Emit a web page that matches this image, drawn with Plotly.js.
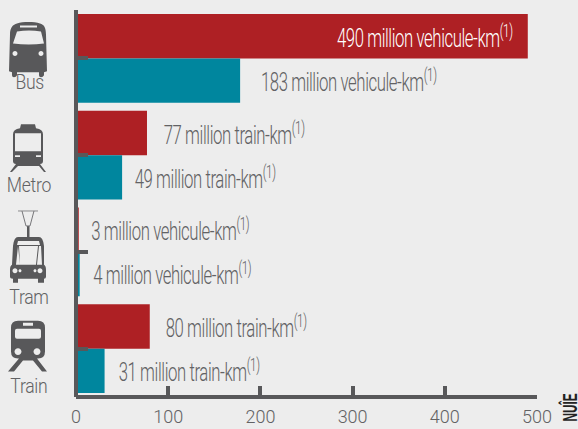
<!DOCTYPE html>
<html><head><meta charset="utf-8">
<script src="https://cdn.plot.ly/plotly-3.0.1.min.js"></script>
<style>
html,body{margin:0;padding:0;background:#ededed;overflow:hidden}
#c{width:578px;height:429px}
</style></head><body><div id="c"></div>
<script>
const categories=['Bus','Metro','Tram','Train'];
const redValues=[490,77,3,80];
const tealValues=[178,50,4,31];
const redLabels=['490 million vehicule-km','77 million train-km','3 million vehicule-km','80 million train-km'];
const tealLabels=['183 million vehicule-km','49 million train-km','4 million vehicule-km','31 million train-km'];
const redLabelX=[282,95,16,98];
const tealLabelX=[200,64,18,47];
const xTicks=[0,100,200,300,400,500];
const RED='#ae2024',TEAL='#00869e',DARK='#58585a',TXT='#626264';
const W=578,H=429,L=76,R=537,T=9.5,B=397.5;
const FONT='Roboto, sans-serif';
const px=x=>(x-L)/(R-L), py=y=>1-(y-T)/(B-T);
function conv(p){return p.replace(/(-?[\d.]+) (-?[\d.]+)/g,(m,a,b)=>px(+a).toFixed(5)+' '+py(+b).toFixed(5));}
function circ(x,y,r){const k=r*.55;return `M${x-r} ${y} C${x-r} ${y-k} ${x-k} ${y-r} ${x} ${y-r} C${x+k} ${y-r} ${x+r} ${y-k} ${x+r} ${y} C${x+r} ${y+k} ${x+k} ${y+r} ${x} ${y+r} C${x-k} ${y+r} ${x-r} ${y+k} ${x-r} ${y} Z `;}
function icon(d){return {type:'path',xref:'paper',yref:'paper',path:conv(d),fillcolor:DARK,fillrule:'evenodd',line:{width:0},layer:'above'};}
function outline(d,w,c){return {type:'path',xref:'paper',yref:'paper',path:conv(d),line:{width:w,color:c||DARK},layer:'above'};}
const busIcon='M10 34 C10 27 13 24 17 23 C23 21 34 21 40 23 C44 24 46 27 46 34 L47 71 L44 72 L44 75 Q43 77 41 77 Q39 77 39 75 L39 72 L17 72 L17 75 Q16 77 14 77 Q12 77 12 75 L12 72 L9 71 Z '
 +'M17 31 Q29 29 41 31 L44 43 Q29 45 13 43 Z M20 25 L37 25 L37 27 L20 27 Z '+circ(15,53,2.5)+circ(41,53,2.5);
const metroIcon='M13 134 Q13 129 20 128 L21 124 L35 124 L36 128 Q43 129 43 134 L43 161 Q43 164 40 164 L46 172 L44 172 L39 166 L18 166 L12 172 L10 172 L16 164 Q13 164 13 161 Z '
 +'M15 133 L41 133 L41 151 L15 151 Z M15 155 L20 155 L20 157 L15 157 Z M36 155 L41 155 L41 157 L36 157 Z';
const tramIcon='M18 237 L39 237 Q43 237 44 246 L44 265 Q46 266 46 270 L46 277 Q46 279 44 279 L44 283 L38 283 L38 279 L18 279 L18 283 L13 283 L13 279 Q10 279 10 277 L10 270 Q10 266 12 265 L13 246 Q14 237 18 237 Z '
 +'M18 241 L39 241 L40 245 L17 245 Z M18 246 L16 265 L20 265 Z M19 246 L20 265 L36 265 L38 246 Z M39 246 L37 265 L42 265 L41 246 Z '
 +circ(15,271,2.5)+circ(20,271,1.5)+circ(35,271,1.5)+circ(40,271,2.5)+'M27 226 L29.5 226 L29.5 237 L27 237 Z';
const trainIcon='M18 321 L38 321 Q45 321 45 328 L45 352 Q45 359 38 359 L37 359 L47 372 L42 372 L33 361 L23 361 L14 372 L8 372 L19 359 L18 359 Q11 359 11 352 L11 328 Q11 321 18 321 Z '
 +'M23 323 L33 323 L33 326 L23 326 Z M17 329 L39 329 Q41 329 41 331 L41 337 Q41 339 39 339 L17 339 Q15 339 15 337 L15 331 Q15 329 17 329 Z '+circ(18,352,3.5)+circ(37,352,3.5);
const shapes=[icon(busIcon),icon(metroIcon),icon(tramIcon),icon(trainIcon),
 outline('M18 211 L38 211',1,'#8a8a8c'),outline('M22 211 L26 226 L30 226 L34 211',1,'#77777a')];
const catLabelY=[82,185,297,386];
const annotations=[];
const valueIdx=[],catIdx=[];
categories.forEach((c,i)=>{
 catIdx.push(annotations.length);
 annotations.push({xref:'paper',yref:'paper',x:px(29),y:py(catLabelY[i]),text:c,showarrow:false,xanchor:'center',yanchor:'middle',font:{family:FONT,size:20,color:TXT,weight:300}});
 valueIdx.push(annotations.length);
 annotations.push({x:redLabelX[i],y:c,xshift:-9,yshift:21,text:redLabels[i]+'<sup>(1)</sup>',showarrow:false,xanchor:'left',yanchor:'middle',font:{family:FONT,size:25,color:i===0?'#ffffff':TXT,weight:300}});
 valueIdx.push(annotations.length);
 annotations.push({x:tealLabelX[i],y:c,xshift:-9,yshift:-23,text:tealLabels[i]+'<sup>(1)</sup>',showarrow:false,xanchor:'left',yanchor:'middle',font:{family:FONT,size:25,color:TXT,weight:300}});
});
const edgeIdx=annotations.length;
annotations.push({xref:'paper',yref:'paper',x:px(570),y:py(392),text:'NUÎE',textangle:-90,showarrow:false,xanchor:'center',yanchor:'top',font:{family:'"Liberation Sans",sans-serif',size:21,color:'#222',weight:700}});
const traces=[
 {type:'bar',orientation:'h',y:categories,x:redValues,marker:{color:RED},hoverinfo:'skip'},
 {type:'bar',orientation:'h',y:categories,x:tealValues,marker:{color:TEAL},hoverinfo:'skip'}];
const layout={width:W,height:H,paper_bgcolor:'#ededed',plot_bgcolor:'#ededed',showlegend:false,
 margin:{l:L,r:W-R,t:T,b:H-B,pad:0},barmode:'group',bargap:8/97,bargroupgap:0,
 xaxis:{range:[0,500],tickvals:xTicks,ticks:'inside',ticklen:9,tickwidth:4,tickcolor:DARK,showline:true,linewidth:4,linecolor:DARK,showgrid:false,zeroline:false,ticklabelstandoff:3,
  anchor:'free',position:(B-397)/(B-T),
  tickfont:{family:'Roboto',size:18,color:TXT,weight:300}},
 yaxis:{type:'category',categoryarray:categories,autorange:'reversed',ticks:'inside',ticklen:10,tickwidth:4,tickcolor:DARK,showline:true,linewidth:4,linecolor:DARK,showgrid:false,zeroline:false,showticklabels:false,
  anchor:'free',position:0},
 annotations,shapes};
Plotly.newPlot('c',traces,layout,{staticPlot:true,displayModeBar:false}).then(()=>{
 const squeeze=(i,sx,ox,ls)=>{const t=document.querySelector(`.annotation[data-index="${i}"] .annotation-text`);
  if(t){t.style.transformBox='fill-box';t.style.transformOrigin=ox+' 50%';t.style.transform=`scaleX(${sx})`;t.style.letterSpacing=ls;}};
 valueIdx.forEach(i=>squeeze(i,0.67,'0%','-0.6px'));
 catIdx.forEach(i=>squeeze(i,0.88,'50%','-0.3px'));
 squeeze(edgeIdx,0.56,'100%','0');
});
</script></body></html>
